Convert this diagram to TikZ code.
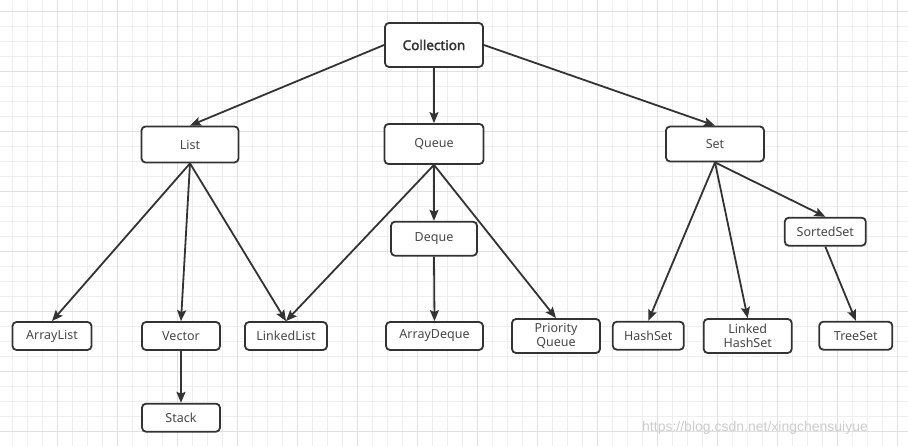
\documentclass[tikz,border=0pt]{standalone}
\usepackage{fontspec}
\setmainfont{Noto Sans}
\newfontfamily\heavyfont{Noto Sans}[FakeBold=2.4]
\newfontfamily\markfont{Liberation Sans}
\usetikzlibrary{arrows.meta}

\definecolor{ink}{HTML}{333333}
\definecolor{finegrid}{HTML}{EEEEEE}
\definecolor{majorgrid}{HTML}{E0E0E0}

\tikzset{
  box/.style={draw=ink, line width=1.8pt, rounded corners=4pt, fill=white,
    text=ink!90, font=\fontsize{12.5}{13.5}\selectfont, align=center, inner sep=0pt},
  link/.style={draw=ink, line width=1.8pt, -{Stealth[length=11pt,width=9pt,inset=2pt]}}
}

\begin{document}
\begin{tikzpicture}[x=1pt,y=-1pt]
 \useasboundingbox[fill=white] (0,0) rectangle (908,446);
 % background grid
 \foreach \x in {12.7,27.7,...,908} \draw[finegrid,line width=1pt] (\x,0) -- (\x,446);
 \foreach \y in {11.7,26.7,...,446} \draw[finegrid,line width=1pt] (0,\y) -- (908,\y);
 \foreach \x in {57.7,117.7,...,908} \draw[majorgrid,line width=1pt] (\x,0) -- (\x,446);
 \foreach \y in {11.7,71.7,...,446} \draw[majorgrid,line width=1pt] (0,\y) -- (908,\y);

 % nodes
 \node[box,minimum width=98,minimum height=44,font=\heavyfont\fontsize{13.5}{14}\selectfont,text=ink] (coll) at (434,45) {Collection};
 \node[box,minimum width=99,minimum height=40] (queue) at (434,144) {Queue};
 \node[box,minimum width=97,minimum height=36] (list) at (190,144.5) {List};
 \node[box,minimum width=98,minimum height=35] (set) at (715,144) {Set};

 \node[box,minimum width=81,minimum height=28] (sorted) at (825.3,231.7) {SortedSet};
 \node[box,minimum width=86,minimum height=34] (deque) at (434,238.7) {Deque};

 \node[box,minimum width=79,minimum height=28] (alist) at (52,336) {ArrayList};
 \node[box,minimum width=78,minimum height=28] (vector) at (181,336) {Vector};
 \node[box,minimum width=82,minimum height=28] (llist) at (286,336) {LinkedList};
 \node[box,minimum width=97,minimum height=28] (adeque) at (434.5,336) {ArrayDeque};
 \node[box,minimum width=88,minimum height=34] (pq) at (556,336) {Priority\\Queue};
 \node[box,minimum width=71,minimum height=28] (hash) at (648.3,335.7) {HashSet};
 \node[box,minimum width=88,minimum height=34] (lhash) at (747.7,336) {Linked\\HashSet};
 \node[box,minimum width=73,minimum height=28] (tree) at (855.8,335.7) {TreeSet};
 \node[box,minimum width=78,minimum height=28] (stack) at (181,417.7) {Stack};

 % connectors
 \draw[link] (coll.west) -- (list.north);
 \draw[link] (coll.south) -- (queue.north);
 \draw[link] (coll.east) -- (set.north);

 \draw[link] (list.south) -- (alist.north);
 \draw[link] (list.south) -- (vector.north);
 \draw[link] (list.south) -- (llist.north);
 \draw[link] (vector.south) -- (stack.north);

 \draw[link] (queue.south) -- (llist.north);
 \draw[link] (queue.south) -- (deque.north);
 \draw[link] (queue.south) -- (pq.north);
 \draw[link] (deque.south) -- (adeque.north);

 \draw[link] (set.south) -- (hash.north);
 \draw[link] (set.south) -- (lhash.north);
 \draw[link] (set.south) -- (sorted.north);
 \draw[link] (sorted.south) -- (tree.north);

 % watermark
 \node[anchor=west,inner sep=0pt,text=gray!40,font=\markfont\fontsize{14}{14}\selectfont] (mark) at (642,428) {https://blog.csdn.net/xingchensuiyue};
\end{tikzpicture}
\end{document}
